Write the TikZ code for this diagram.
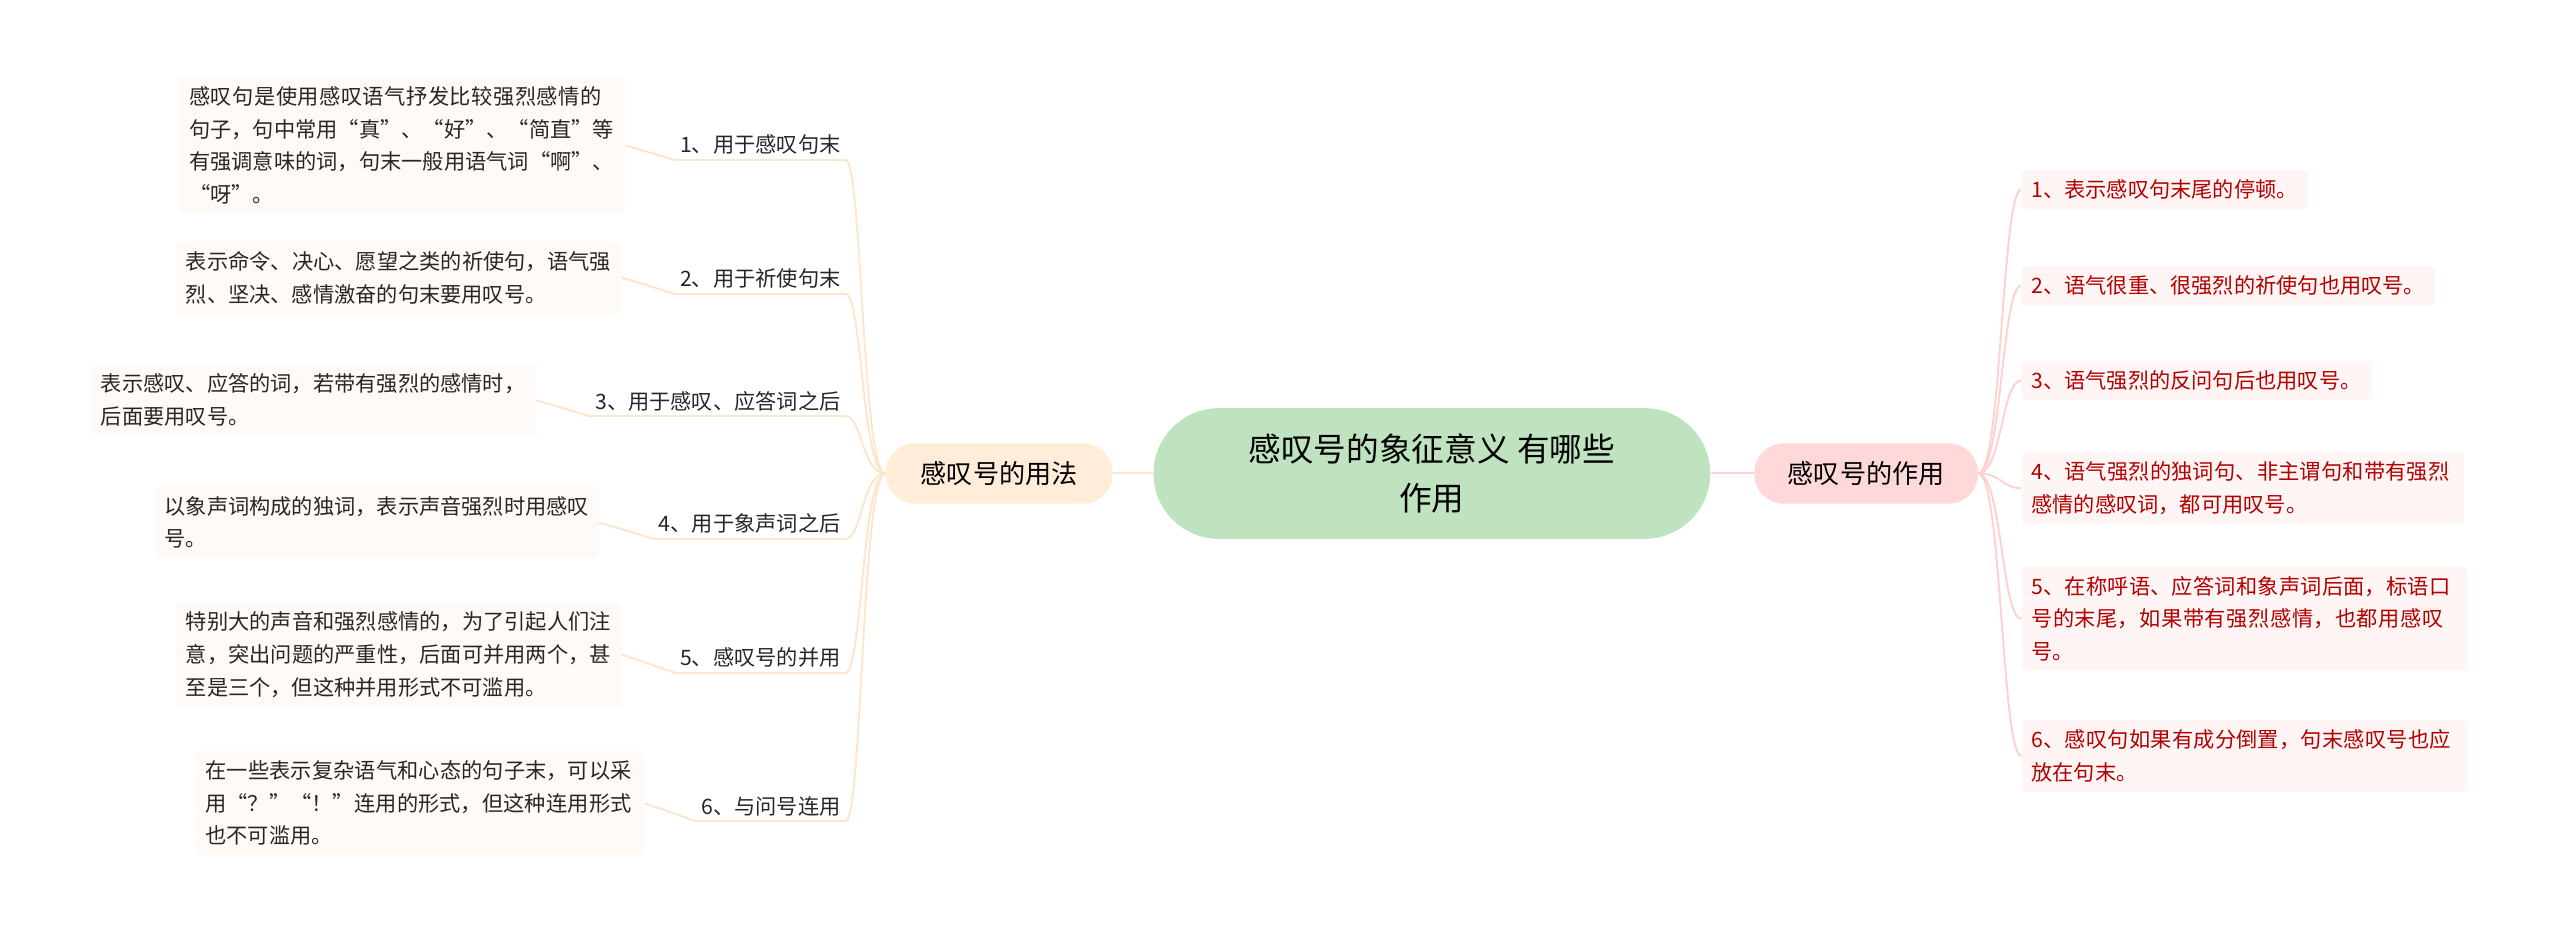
\documentclass[tikz,border=0pt]{standalone}
\usepackage{fontspec}
\setmainfont{Noto Sans CJK SC}
\XeTeXlinebreaklocale "zh"
\XeTeXlinebreakskip=0pt plus 1pt
\begin{document}
\begin{tikzpicture}[x=1pt,y=-1pt,
  lline/.style={draw=orange!20,line width=1.2pt},
  rline/.style={draw=red!18,line width=1.2pt},
  lbox/.style={fill=orange!4,rounded corners=3pt,inner sep=6pt,align=left,font=\fontsize{13}{20}\selectfont,text=black!85},
  rbox/.style={fill=red!4,rounded corners=3pt,inner sep=6pt,align=left,font=\fontsize{13}{20}\selectfont,text=red!70!black},
  lab/.style={inner sep=3pt,font=\fontsize{13}{18}\selectfont,text=black!85}]
\useasboundingbox (0,0) rectangle (1568,581);
\node[fill=green!55!black!25!white,draw=none,rounded corners=40pt,minimum width=341pt,minimum height=80pt,align=center,font=\fontsize{20}{30}\selectfont] (c) at (877,290) {感叹号的象征意义 有哪些\\作用};
\node[fill=orange!15,rounded corners=18pt,minimum width=139pt,minimum height=37pt,font=\fontsize{16}{20}\selectfont] (L) at (612,290) {感叹号的用法};
\node[fill=red!15,rounded corners=18pt,minimum width=137pt,minimum height=37pt,font=\fontsize{16}{20}\selectfont] (R) at (1143,290) {感叹号的作用};
\draw[lline] (c.west) -- (L.east);
\draw[rline] (c.east) -- (R.west);
\foreach \n/\y/\t in {1/88/1、用于感叹句末,2/170/2、用于祈使句末,3/245/3、用于感叹、应答词之后,4/320/4、用于象声词之后,5/402/5、感叹号的并用,6/493/6、与问号连用}{
  \node[lab,anchor=south east] (l\n) at (518,\y+10) {\t};
  \draw[lline] (l\n.south west) -- (l\n.south east);
  \draw[lline] (L.west) .. controls (528,290) and (528,\y+10) .. (l\n.south east);
}
\node[lbox,text width=261pt,anchor=east] (b1) at (383,89) {感叹句是使用感叹语气抒发比较强烈感情的句子，句中常用“真”、“好”、“简直”等有强调意味的词，句末一般用语气词“啊”、“呀”。};
\node[lbox,text width=261pt,anchor=east] (b2) at (381,170) {表示命令、决心、愿望之类的祈使句，语气强烈、坚决、感情激奋的句末要用叹号。};
\node[lbox,text width=260pt,anchor=east] (b3) at (328,245) {表示感叹、应答的词，若带有强烈的感情时，后面要用叹号。};
\node[lbox,text width=260pt,anchor=east] (b4) at (367,320) {以象声词构成的独词，表示声音强烈时用感叹号。};
\node[lbox,text width=261pt,anchor=east] (b5) at (381,401) {特别大的声音和强烈感情的，为了引起人们注意，突出问题的严重性，后面可并用两个，甚至是三个，但这种并用形式不可滥用。};
\node[lbox,text width=263pt,anchor=east] (b6) at (395,492) {在一些表示复杂语气和心态的句子末，可以采用“？”“！”连用的形式，但这种连用形式也不可滥用。};
\foreach \n in {1,...,6}{\draw[lline] (b\n.east) -- (l\n.south west);}
\node[rbox,anchor=west] (r1) at (1238,116) {1、表示感叹句末尾的停顿。};
\node[rbox,anchor=west] (r2) at (1238,175) {2、语气很重、很强烈的祈使句也用叹号。};
\node[rbox,anchor=west] (r3) at (1238,233) {3、语气强烈的反问句后也用叹号。};
\node[rbox,anchor=west,text width=259pt] (r4) at (1238,299) {4、语气强烈的独词句、非主谓句和带有强烈感情的感叹词，都可用叹号。};
\node[rbox,anchor=west,text width=261pt] (r5) at (1238,379) {5、在称呼语、应答词和象声词后面，标语口号的末尾，如果带有强烈感情，也都用感叹号。};
\node[rbox,anchor=west,text width=261pt] (r6) at (1238,463) {6、感叹句如果有成分倒置，句末感叹号也应放在句末。};
\foreach \n in {1,...,6}{\draw[rline] (R.east) .. controls (1226,290) and (1226,0|-r\n.west) .. (r\n.west);}
\end{tikzpicture}
\end{document}
